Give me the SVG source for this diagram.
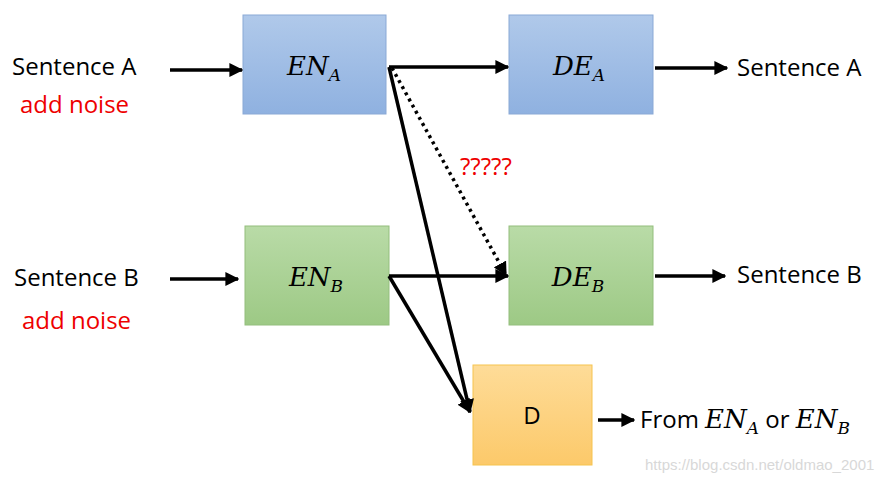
<svg xmlns="http://www.w3.org/2000/svg" width="892" height="482" viewBox="0 0 892 482">
<defs>
<linearGradient id="gb" x1="0" y1="0" x2="0" y2="1"><stop offset="0" stop-color="#b0c9ea"/><stop offset="1" stop-color="#8fb1e0"/></linearGradient>
<linearGradient id="gg" x1="0" y1="0" x2="0" y2="1"><stop offset="0" stop-color="#b9dba7"/><stop offset="1" stop-color="#9dc985"/></linearGradient>
<linearGradient id="go" x1="0" y1="0" x2="0" y2="1"><stop offset="0" stop-color="#fedc98"/><stop offset="1" stop-color="#fcc96a"/></linearGradient>
<marker id="ah" viewBox="0 0 10 10" refX="9" refY="5" markerWidth="4" markerHeight="4" orient="auto"><path d="M0,0L10,5L0,10z" fill="#000"/></marker>
</defs>
<style>
.t{font-family:"Open Sans","Noto Sans",sans-serif;font-size:24px;fill:#000}
.r{fill:#e00}
.m{font-family:"DejaVu Serif","Liberation Serif",serif;font-style:italic;font-size:26px}
.s{font-size:17px}
.c{stroke:#000;stroke-width:3.5;fill:none;marker-end:url(#ah)}
</style>
<rect width="892" height="482" fill="#fff"/>
<g id="enA"><rect x="243" y="15" width="143" height="99" fill="url(#gb)" stroke="#8aa9d6"/><text x="314" y="75" text-anchor="middle" class="m">EN<tspan class="s" dy="6">A</tspan></text></g>
<g id="deA"><rect x="509" y="15" width="144" height="99" fill="url(#gb)" stroke="#8aa9d6"/><text x="579" y="75" text-anchor="middle" class="m">DE<tspan class="s" dy="6">A</tspan></text></g>
<g id="enB"><rect x="245" y="226" width="144" height="99" fill="url(#gg)" stroke="#93be7c"/><text x="316" y="286" text-anchor="middle" class="m">EN<tspan class="s" dy="6">B</tspan></text></g>
<g id="deB"><rect x="509" y="226" width="144" height="99" fill="url(#gg)" stroke="#93be7c"/><text x="578" y="286" text-anchor="middle" class="m">DE<tspan class="s" dy="6">B</tspan></text></g>
<g id="D"><rect x="473" y="365" width="119" height="100" fill="url(#go)" stroke="#f6c34f"/><text x="532" y="424" text-anchor="middle" class="t" font-size="22">D</text></g>
<g id="labels">
<text x="12" y="75" class="t">Sentence A</text>
<text x="20" y="113" class="t r">add noise</text>
<text x="14" y="286" class="t">Sentence B</text>
<text x="22" y="329" class="t r">add noise</text>
<text x="737" y="76" class="t">Sentence A</text>
<text x="737" y="283" class="t">Sentence B</text>
<text x="460" y="175" class="t r">?????</text>
<text x="640" y="428" class="t">From <tspan class="m">EN<tspan class="s" dy="6">A</tspan></tspan><tspan dy="-6"> or </tspan><tspan class="m">EN<tspan class="s" dy="6">B</tspan></tspan></text>
<text x="645" y="470" font-family="Liberation Sans,sans-serif" font-size="15" fill="#d8d8d8">https://blog.csdn.net/oldmao_2001</text>
</g>
<g id="connectors">
<line x1="170" y1="70" x2="242" y2="70" class="c"/>
<line x1="389" y1="67" x2="508" y2="67" class="c"/>
<line x1="655" y1="68" x2="727" y2="68" class="c"/>
<line x1="392" y1="68" x2="506" y2="275" class="c" stroke-dasharray="3,4"/>
<line x1="389" y1="67" x2="470" y2="412" class="c"/>
<line x1="170" y1="279" x2="238" y2="279" class="c"/>
<line x1="389" y1="276" x2="508" y2="276" class="c"/>
<line x1="389" y1="276" x2="470" y2="412" class="c"/>
<line x1="655" y1="276" x2="725" y2="276" class="c"/>
<line x1="598" y1="420" x2="634" y2="420" class="c"/>
</g>
</svg>
